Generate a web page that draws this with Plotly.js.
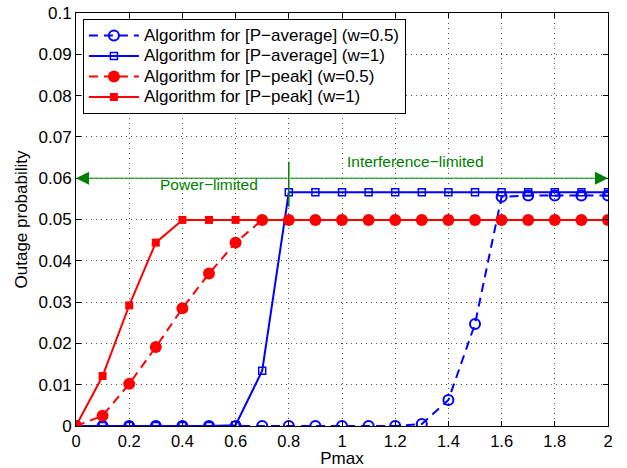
<!DOCTYPE html>
<html>
<head>
<meta charset="utf-8">
<script src="https://cdn.plot.ly/plotly-3.0.1.min.js"></script>
<style>
html,body{margin:0;padding:0;background:#fff;}
#chart{width:627px;height:468px;}
/* legend text drawn larger than the row spacing font */
.legendtext{font-size:17px !important;}
</style>
</head>
<body>
<div id="chart"></div>
<script>
// ---- data ----
const pmax = [0, 0.1, 0.2, 0.3, 0.4, 0.5, 0.6, 0.7, 0.8, 0.9, 1.0, 1.1, 1.2, 1.3, 1.4, 1.5, 1.6, 1.7, 1.8, 1.9, 2.0];
const avgW05 = [0, 0, 0, 0, 0, 0, 0, 0, 0, 0, 0, 0, 0, 0.0005, 0.0063, 0.0247, 0.0555, 0.0558, 0.0558, 0.0558, 0.0558];
const avgW1 = [0, 0, 0, 0, 0, 0, 0.0002, 0.0134, 0.0566, 0.0566, 0.0566, 0.0566, 0.0566, 0.0566, 0.0566, 0.0566, 0.0566, 0.0566, 0.0566, 0.0566, 0.0566];
const peakW05 = [0, 0.0025, 0.0102, 0.0191, 0.0285, 0.0369, 0.0444, 0.0499, 0.0499, 0.0499, 0.0499, 0.0499, 0.0499, 0.0499, 0.0499, 0.0499, 0.0499, 0.0499, 0.0499, 0.0499, 0.0499];
const peakW1 = [0, 0.0121, 0.0292, 0.0444, 0.0499, 0.0499, 0.0499, 0.0499, 0.0499, 0.0499, 0.0499, 0.0499, 0.0499, 0.0499, 0.0499, 0.0499, 0.0499, 0.0499, 0.0499, 0.0499, 0.0499];
const seriesNames = [
  "Algorithm for [P\u2212average] (w=0.5)",
  "Algorithm for [P\u2212average] (w=1)",
  "Algorithm for [P\u2212peak] (w=0.5)",
  "Algorithm for [P\u2212peak] (w=1)"
];
const xTicks = [0, 0.2, 0.4, 0.6, 0.8, 1, 1.2, 1.4, 1.6, 1.8, 2];
const yTicks = [0, 0.01, 0.02, 0.03, 0.04, 0.05, 0.06, 0.07, 0.08, 0.09, 0.1];
const regionLabels = ["Power\u2212limited", "Interference\u2212limited"];
const regionLabelX = [0.499, 1.277];
const regionLabelY = [0.0584, 0.0640];
const arrowLevel = 0.06;       // y of the double arrow
const arrowEnds = [0, 2];      // x of the arrow heads
const boundaryX = 0.8;         // split between regions
const boundaryY = [0.0531, 0.064];

const FONT = "Liberation Sans, Arial, Helvetica, sans-serif";
const GREEN = "rgb(0,128,0)";
const BLUE = "rgb(0,0,255)";
const RED = "rgb(255,0,0)";

const traces = [
  {x: pmax, y: avgW05, name: seriesNames[0], mode: "lines+markers",
   line: {color: BLUE, width: 2, dash: "9px,6px"},
   marker: {symbol: "circle-open", size: 10, color: BLUE, line: {width: 2, color: BLUE}}},
  {x: pmax, y: avgW1, name: seriesNames[1], mode: "lines+markers",
   line: {color: BLUE, width: 2},
   marker: {symbol: "square-open", size: 7, color: BLUE, line: {width: 1.5, color: BLUE}}},
  {x: pmax, y: peakW05, name: seriesNames[2], mode: "lines+markers",
   line: {color: RED, width: 2, dash: "9px,6px"},
   marker: {symbol: "circle", size: 12, color: RED}},
  {x: pmax, y: peakW1, name: seriesNames[3], mode: "lines+markers",
   line: {color: RED, width: 2},
   marker: {symbol: "square", size: 8, color: RED}}
];

const axisCommon = {
  showline: true, linecolor: "black", linewidth: 1, mirror: "ticks",
  ticks: "inside", ticklen: 5, tickcolor: "black", tickwidth: 1,
  showgrid: true, gridcolor: "rgb(80,80,80)", gridwidth: 1, griddash: "1px,4px",
  zeroline: false
};

const layout = {
  width: 627, height: 468,
  margin: {l: 76, r: 19, t: 13, b: 42},
  paper_bgcolor: "white", plot_bgcolor: "white",
  font: {family: FONT, size: 17, color: "black"},
  showlegend: true,
  legend: {x: 0.013, y: 0.985, xanchor: "left", yanchor: "top",
    bgcolor: "white", bordercolor: "black", borderwidth: 1,
    font: {family: FONT, size: 13.5, color: "black"}, itemwidth: 50, tracegroupgap: 0},
  xaxis: Object.assign({}, axisCommon, {range: [0, 2], tickvals: xTicks,
    tickfont: {family: FONT, size: 16.5, color: "black"},
    title: {text: "Pmax", font: {family: FONT, size: 17}, standoff: 5}}),
  yaxis: Object.assign({}, axisCommon, {range: [0, 0.1], tickvals: yTicks,
    tickfont: {family: FONT, size: 17, color: "black"},
    title: {text: "Outage probability", font: {family: FONT, size: 17}, standoff: 6}}),
  shapes: [
    {type: "line", xref: "x", yref: "y", x0: boundaryX, x1: boundaryX, y0: boundaryY[0], y1: boundaryY[1],
     line: {color: GREEN, width: 1.5}}
  ],
  annotations: [
    {xref: "x", yref: "y", axref: "x", ayref: "y", x: arrowEnds[0], y: arrowLevel, ax: boundaryX, ay: arrowLevel,
     text: "", showarrow: true, arrowhead: 2, arrowsize: 2.6, arrowwidth: 1, arrowcolor: GREEN},
    {xref: "x", yref: "y", axref: "x", ayref: "y", x: arrowEnds[1], y: arrowLevel, ax: boundaryX, ay: arrowLevel,
     text: "", showarrow: true, arrowhead: 2, arrowsize: 2.6, arrowwidth: 1, arrowcolor: GREEN},
    {xref: "x", yref: "y", x: regionLabelX[0], y: regionLabelY[0], text: regionLabels[0], showarrow: false,
     font: {family: FONT, size: 15.5, color: GREEN}},
    {xref: "x", yref: "y", x: regionLabelX[1], y: regionLabelY[1], text: regionLabels[1], showarrow: false,
     font: {family: FONT, size: 15.5, color: GREEN}}
  ]
};

Plotly.newPlot("chart", traces, layout, {displayModeBar: false, staticPlot: true});
</script>
</body>
</html>
